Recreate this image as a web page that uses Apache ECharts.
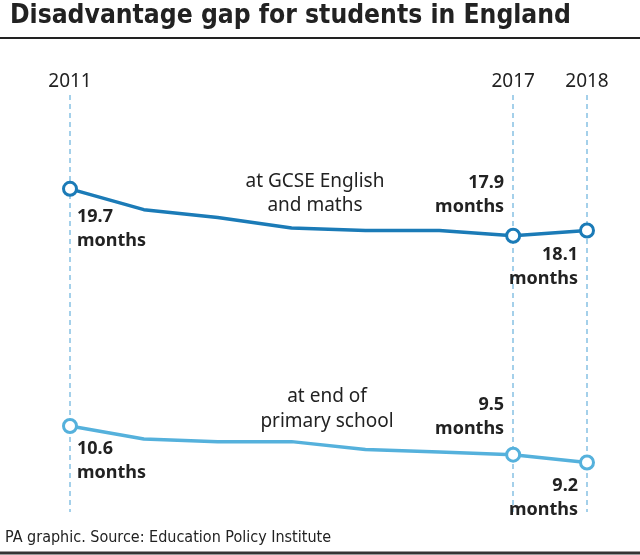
<!DOCTYPE html>
<html>
<head>
<meta charset="utf-8">
<script src="https://cdn.jsdelivr.net/npm/echarts@6/dist/echarts.min.js"></script>
<style>html,body{margin:0;padding:0;background:#fff}#c{width:640px;height:555px}</style>
</head>
<body>
<div id="c"></div>
<script>
const years = ['2011','2012','2013','2014','2015','2016','2017','2018'];
const gcseValues = [19.7, 18.9, 18.6, 18.2, 18.1, 18.1, 17.9, 18.1];
const primaryValues = [10.6, 10.1, 10.0, 10.0, 9.7, 9.6, 9.5, 9.2];
const shownYears = ['2011','2017','2018'];
const gcseLabels = ['19.7\nmonths', '', '', '', '', '', '17.9\nmonths', '18.1\nmonths'];
const primaryLabels = ['10.6\nmonths', '', '', '', '', '', '9.5\nmonths', '9.2\nmonths'];
const titleText = 'Disadvantage gap for students in England';
const gcseName = 'at GCSE English\nand maths';
const primaryName = 'at end of\nprimary school';
const footerText = 'PA graphic. Source: Education Policy Institute';

const CONDENSED = '"Liberation Sans Narrow", "DejaVu Sans Condensed", Roboto, "Noto Sans", sans-serif';
const BODY = '"Noto Sans", Roboto, sans-serif';

function fitSize(text, weight, family, base, target) {
  const ctx = document.createElement('canvas').getContext('2d');
  ctx.font = weight + ' ' + base + 'px ' + family;
  const w = ctx.measureText(text).width;
  return Math.min(base, base * target / w);
}
const titleSize = fitSize(titleText, 'bold', CONDENSED, 30, 561);
const footerSize = fitSize(footerText, 'normal', CONDENSED, 16, 328);

// label offsets per point (layout only)
const gcseLabelLayout = [
  {align:'left', va:'top', off:[7, 16]},
  null,null,null,null,null,
  {align:'right', va:'bottom', off:[-9, -17]},
  {align:'right', va:'top', off:[-9, 12]}
];
const primaryLabelLayout = [
  {align:'left', va:'top', off:[7, 11]},
  null,null,null,null,null,
  {align:'right', va:'bottom', off:[-9, -14]},
  {align:'right', va:'top', off:[-9, 11]}
];

function buildData(values, labels, layout) {
  return values.map((v, i) => {
    const marked = shownYears.indexOf(years[i]) >= 0;
    const d = {value: v, symbol: marked ? 'circle' : 'none'};
    if (labels[i]) {
      const l = layout[i];
      d.label = {
        show: true, position: 'inside', formatter: labels[i],
        align: l.align, verticalAlign: l.va, offset: l.off,
        fontFamily: BODY, fontWeight: 'bold', fontSize: 18, lineHeight: 24, color: '#222'
      };
    }
    return d;
  });
}

const chart = echarts.init(document.getElementById('c'), null, {renderer: 'canvas'});
const showYear = (idx, val) => shownYears.indexOf(years[idx]) >= 0;

chart.setOption({
  backgroundColor: '#fff',
  animation: false,
  title: {
    text: titleText, left: 5, top: -2,
    textStyle: {fontFamily: CONDENSED, fontWeight: 'bold', fontSize: titleSize, color: '#222'}
  },
  grid: {left: 70, right: 53, top: 95, bottom: 43},
  xAxis: {
    type: 'category', data: years, boundaryGap: false, position: 'top',
    axisLine: {show: false}, axisTick: {show: false},
    axisLabel: {interval: showYear, fontFamily: BODY, fontSize: 19, color: '#222', margin: 4},
    splitLine: {show: true, interval: showYear, lineStyle: {color: '#86c1e4', type: [5, 4], width: 1.5}}
  },
  yAxis: {type: 'value', min: 7.3, max: 23.3, show: false, splitLine: {show: false}},
  series: [
    {
      type: 'line', name: 'GCSE', data: buildData(gcseValues, gcseLabels, gcseLabelLayout),
      symbolSize: 13, showAllSymbol: true,
      lineStyle: {color: '#1b7bb7', width: 3.5},
      itemStyle: {color: '#fff', borderColor: '#1b7bb7', borderWidth: 3},
      z: 3
    },
    {
      type: 'line', name: 'Primary', data: buildData(primaryValues, primaryLabels, primaryLabelLayout),
      symbolSize: 13, showAllSymbol: true,
      lineStyle: {color: '#55b1dc', width: 3.5},
      itemStyle: {color: '#fff', borderColor: '#55b1dc', borderWidth: 3},
      z: 3
    }
  ],
  graphic: [
    {type: 'line', shape: {x1: 0, y1: 38, x2: 640, y2: 38}, style: {stroke: '#222', lineWidth: 2}},
    {type: 'line', shape: {x1: 0, y1: 553, x2: 640, y2: 553}, style: {stroke: '#333', lineWidth: 3}},
    {type: 'text', x: 315, y: 194, style: {text: gcseName, align: 'center', verticalAlign: 'middle', fontFamily: BODY, fontSize: 19, lineHeight: 24, fill: '#222'}},
    {type: 'text', x: 327, y: 409, style: {text: primaryName, align: 'center', verticalAlign: 'middle', fontFamily: BODY, fontSize: 19, lineHeight: 25, fill: '#222'}},
    {type: 'text', x: 5, y: 538, style: {text: footerText, align: 'left', verticalAlign: 'middle', fontFamily: CONDENSED, fontSize: footerSize, fill: '#222'}}
  ]
});
</script>
</body>
</html>
